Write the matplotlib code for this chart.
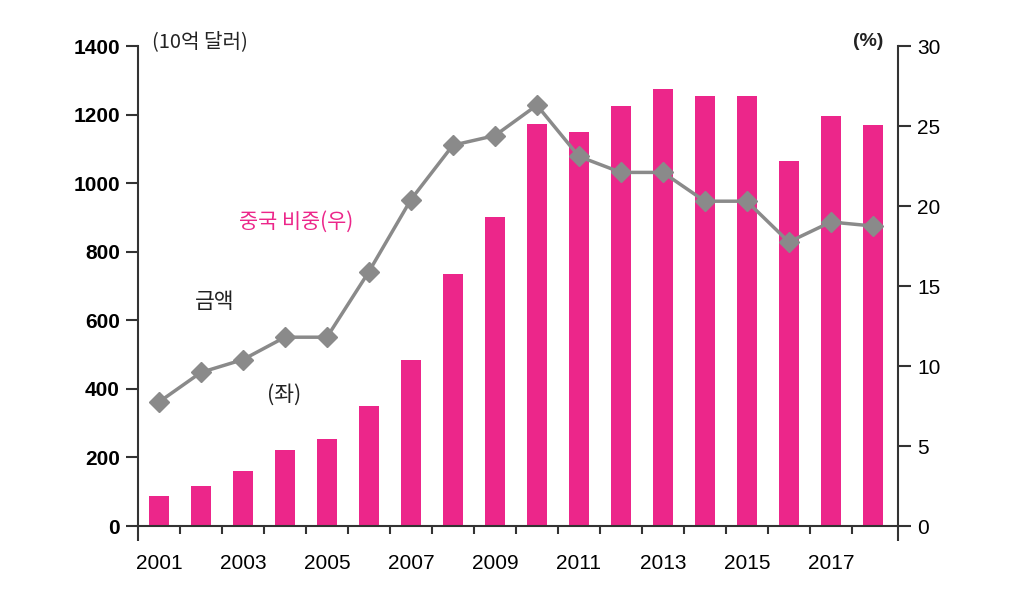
import matplotlib
matplotlib.use("Agg")
import matplotlib.pyplot as plt
import numpy as np

plt.rcParams['font.family'] = ['Liberation Sans Narrow', 'Liberation Sans', 'Noto Sans CJK KR', 'DejaVu Sans']

years = list(range(2001, 2019))
amount = [87, 117, 160, 222, 254, 350, 484, 735, 901, 1172, 1149, 1225, 1274, 1254, 1254, 1064, 1196, 1169]
share = [7.75, 9.6, 10.4, 11.8, 11.8, 15.9, 20.4, 23.8, 24.4, 26.3, 23.1, 22.1, 22.1, 20.3, 20.3, 17.75, 19.0, 18.75]
xlabels = ['2001', '2003', '2005', '2007', '2009', '2011', '2013', '2015', '2017']

bar_color = '#EC268A'
line_color = '#8A8A8A'
axis_color = '#333333'

fig = plt.figure(figsize=(10.24, 6.08), dpi=100)
ax = fig.add_axes([138/1024, 1-526/608, (898-138)/1024, (526-46)/608])
ax2 = ax.twinx()

ax.bar(years, amount, width=0.48, color=bar_color, zorder=2)
ax2.plot(years, share, color=line_color, lw=2.5, marker='D', markersize=10,
         markerfacecolor=line_color, markeredgecolor=line_color, zorder=3)

x_right = 2018.6
ax.set_xlim(2000.5, x_right)
ax.set_ylim(0, 1400)
ax2.set_ylim(0, 30)
ax.set_yticks(range(0, 1401, 200))
ax2.set_yticks(range(0, 31, 5))

ax.set_xticks([int(y) for y in xlabels])
ax.set_xticklabels(xlabels)
ax.set_xticks(list(np.arange(2001.5, 2018.0, 1.0)), minor=True)
ax.tick_params(axis='x', which='major', length=0, pad=20, labelsize=15)
ax.tick_params(axis='x', which='minor', length=6, width=1.5, color=axis_color, direction='out')
ax.tick_params(axis='y', length=9, width=1.5, color=axis_color, labelsize=15, pad=4)
ax2.tick_params(axis='y', length=9, width=1.5, color=axis_color, labelsize=15, pad=5)

# end ticks at both spines extending below the x axis
for xe in (2000.5, x_right):
    ax.plot([xe, xe], [0, -0.032], transform=ax.get_xaxis_transform(), color=axis_color,
            lw=1.5, clip_on=False, solid_capstyle='butt')

for a in (ax, ax2):
    a.spines['top'].set_visible(False)
    for s in ('left', 'right', 'bottom'):
        a.spines[s].set_color(axis_color)
        a.spines[s].set_linewidth(1.5)
ax.spines['right'].set_visible(False)
ax2.spines['left'].set_visible(False)
ax2.spines['bottom'].set_visible(False)

for lbl in ax.get_yticklabels():
    lbl.set_fontweight('bold')

kfont = ['Noto Sans CJK KR', 'DejaVu Sans']
fig.text(152/1024, 1-42/608, '(10억 달러)', family=kfont, fontsize=14.5, color='#222222', va='center', ha='left')
fig.text(868/1024, 1-42/608, '(%)', family=['Liberation Sans', 'DejaVu Sans'], fontsize=14, fontweight='bold', color='#222222', va='center', ha='center')
fig.text(296/1024, 1-222/608, '중국 비중(우)', family=kfont, fontsize=15, color=bar_color, va='center', ha='center')
fig.text(215/1024, 1-302/608, '금액', family=kfont, fontsize=15.5, color='#222222', va='center', ha='center')
fig.text(284/1024, 1-395/608, '(좌)', family=kfont, fontsize=15.5, color='#222222', va='center', ha='center')

fig.savefig('out.png', dpi=100)
